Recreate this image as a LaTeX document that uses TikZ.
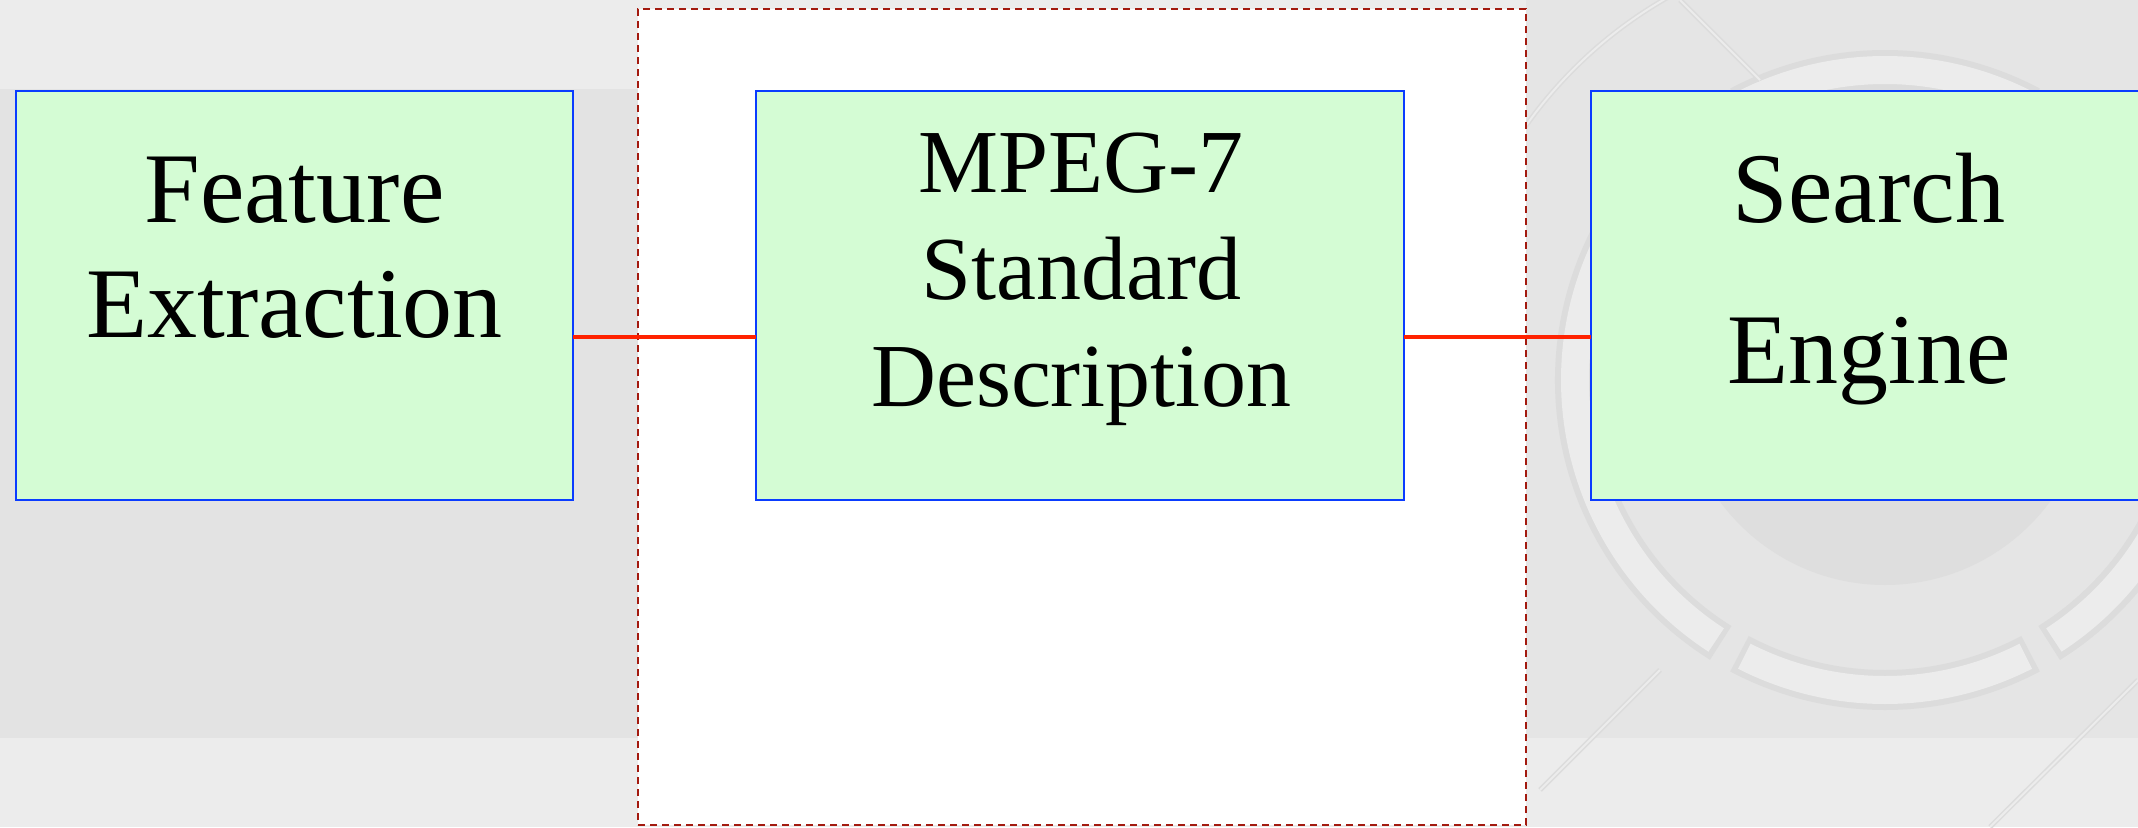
\documentclass[tikz,border=0pt]{standalone}
\usepackage{fontspec}
\setmainfont{Liberation Serif}
\definecolor{bgA}{HTML}{ECECEC}
\definecolor{bgB}{HTML}{E3E3E3}
\definecolor{bgC}{HTML}{E5E5E5}
\definecolor{ringD}{HTML}{DCDCDC}
\definecolor{ringL}{HTML}{ECECEC}
\definecolor{discC}{HTML}{DEDEDE}
\definecolor{boxgreen}{HTML}{D4FCD4}
\definecolor{boxblue}{HTML}{0A3CFF}
\definecolor{linkred}{HTML}{FF2200}
\definecolor{grpred}{HTML}{A31A0F}
\begin{document}
\begin{tikzpicture}[x=1pt,y=-1pt,
  box/.style={draw=boxblue, line width=2pt, fill=boxgreen, inner sep=0pt, outer sep=0pt},
  grpbox/.style={draw=grpred, line width=2pt, fill=white, dash pattern=on 7pt off 5pt, inner sep=0pt},
  lblbig/.style={font=\fontsize{100}{115}\selectfont, anchor=base, inner sep=0pt},
  lblmid/.style={font=\fontsize{90}{105}\selectfont, anchor=base, inner sep=0pt},
  link/.style={draw=linkred, line width=3.5pt}]
\useasboundingbox (0,0) rectangle (2138,827);
% background
\fill[bgA] (0,0) rectangle (2138,827);
\fill[bgB] (0,89) rectangle (2138,738);
% decorative wheel on the right
\begin{scope}
  \clip (1526,0) rectangle (2138,827);
  \fill[bgC] (1526,0) rectangle (2138,827);
  \fill[bgA] (1526,738) rectangle (2138,827);
  \fill[discC] (1885,380) circle (205pt);
  \foreach \a/\b in {-58/-2, 2/58, 62/118, 122/238, 242/298, 302/358}{
    \draw[ringD, line width=40pt] (1885,380) ++(\a:310pt) arc[start angle=\a, end angle=\b, radius=310pt];
    \draw[ringL, line width=28pt] (1885,380) ++(\a+1:310pt) arc[start angle=\a+1, end angle=\b-1, radius=310pt];
  }
  \draw[ringD, line width=5pt] (1885,380) ++(100:440pt) arc[start angle=100, end angle=150, radius=440pt];
  \draw[ringL, line width=2pt] (1885,380) ++(100:440pt) arc[start angle=100, end angle=150, radius=440pt];
  \draw[ringD, line width=5pt] (1540,790) -- (1660,670);
  \draw[ringL, line width=2pt] (1540,790) -- (1660,670);
  \draw[ringD, line width=5pt] (1990,827) -- (2138,680);
  \draw[ringL, line width=2pt] (1990,827) -- (2138,680);
  \draw[ringD, line width=5pt] (1680,0) -- (1760,80);
  \draw[ringL, line width=2pt] (1680,0) -- (1760,80);
\end{scope}
% dashed group frame
\node[grpbox, minimum width=888, minimum height=816] (grp) at (1082,417) {};
% boxes
\node[box, minimum width=557, minimum height=409] (lbox) at (294.5,295.5) {};
\node[box, minimum width=648, minimum height=409] (mbox) at (1080,295.5) {};
\node[box, minimum width=560, minimum height=409] (rbox) at (1871,295.5) {};
% labels
\node[lblbig] (l1) at (294.5,222) {Feature};
\node[lblbig] (l2) at (294.5,337) {Extraction};
\node[lblmid] (m1) at (1081,192) {MPEG-7};
\node[lblmid] (m2) at (1081,299) {Standard};
\node[lblmid] (m3) at (1081,406) {Description};
\node[lblbig] (r1) at (1869,222) {Search};
\node[lblbig] (r2) at (1869,383) {Engine};
% connectors
\coordinate (ly) at (0,337);
\draw[link] (lbox.east |- ly) -- (mbox.west |- ly);
\draw[link] (mbox.east |- ly) -- (rbox.west |- ly);
\end{tikzpicture}
\end{document}
